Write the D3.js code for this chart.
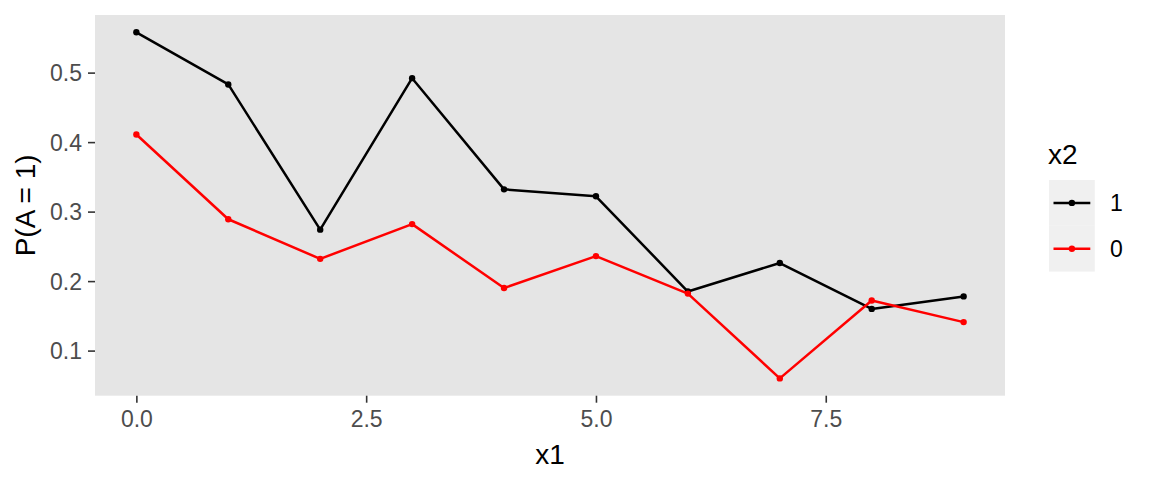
<!DOCTYPE html>
<html>
<head>
<meta charset="utf-8">
<script src="https://cdn.jsdelivr.net/npm/d3@7"></script>
<style>
  html, body { margin: 0; padding: 0; background: #fff; }
  svg { display: block; font-family: "Liberation Sans", Arial, sans-serif; }
</style>
</head>
<body>
<svg id="chart" width="1152" height="480"></svg>
<script>
const x1Values = [0, 1, 2, 3, 4, 5, 6, 7, 8, 9];
const series1 = [0.558, 0.483, 0.274, 0.492, 0.332, 0.322, 0.185, 0.226, 0.160, 0.178];
const series0 = [0.411, 0.289, 0.232, 0.282, 0.190, 0.236, 0.182, 0.060, 0.172, 0.141];
const seriesNames = ["1", "0"];
const seriesColors = ["#000000", "#FF0000"];
const xTicks = [0, 2.5, 5, 7.5];
const yTicks = [0.1, 0.2, 0.3, 0.4, 0.5];

const svg = d3.select("#chart");
const panel = { left: 95, right: 1005, top: 15, bottom: 395.7 };

const allY = series1.concat(series0);
const yMin = d3.min(allY), yMax = d3.max(allY);
const yPad = (yMax - yMin) * 0.05;
const xMin = d3.min(x1Values), xMax = d3.max(x1Values);
const xPad = (xMax - xMin) * 0.05;

const x = d3.scaleLinear().domain([xMin - xPad, xMax + xPad]).range([panel.left, panel.right]);
const y = d3.scaleLinear().domain([yMin - yPad, yMax + yPad]).range([panel.bottom, panel.top]);

svg.append("rect")
  .attr("x", panel.left).attr("y", panel.top)
  .attr("width", panel.right - panel.left).attr("height", panel.bottom - panel.top)
  .attr("fill", "#E5E5E5");

// Axes
const xAxis = d3.axisBottom(x).tickValues(xTicks).tickFormat(d3.format(".1f")).tickSizeInner(7).tickSizeOuter(0).tickPadding(4);
const gx = svg.append("g").attr("transform", `translate(0,${panel.bottom})`).call(xAxis);
gx.select(".domain").remove();
gx.selectAll(".tick line").attr("stroke", "#333333").attr("stroke-width", 1.6);
gx.selectAll(".tick text").attr("fill", "#4D4D4D").attr("font-size", 23).attr("dy", null).attr("y", 31.5);

const yAxis = d3.axisLeft(y).tickValues(yTicks).tickFormat(d3.format(".1f")).tickSizeInner(7).tickSizeOuter(0).tickPadding(5);
const gy = svg.append("g").attr("transform", `translate(${panel.left},0)`).call(yAxis);
gy.select(".domain").remove();
gy.selectAll(".tick line").attr("stroke", "#333333").attr("stroke-width", 1.6);
gy.selectAll(".tick text").attr("fill", "#4D4D4D").attr("font-size", 23).attr("dy", "0.35em").attr("x", -13);

// Axis titles
svg.append("text")
  .attr("x", (panel.left + panel.right) / 2).attr("y", 464)
  .attr("text-anchor", "middle").attr("font-size", 28).attr("fill", "#000")
  .text("x1");
svg.append("text")
  .attr("transform", `translate(35,${(panel.top + panel.bottom) / 2}) rotate(-90)`)
  .attr("text-anchor", "middle").attr("font-size", 28).attr("fill", "#000")
  .text("P(A = 1)");

// Lines and points
const data = [series1, series0];
const line = d3.line().x((d, i) => x(x1Values[i])).y(d => y(d));
data.forEach((vals, k) => {
  svg.append("path").datum(vals)
    .attr("d", line).attr("fill", "none")
    .attr("stroke", seriesColors[k]).attr("stroke-width", 2.5)
    .attr("stroke-linejoin", "round");
  svg.selectAll(null).data(vals).enter().append("circle")
    .attr("cx", (d, i) => x(x1Values[i])).attr("cy", d => y(d))
    .attr("r", 3.2).attr("fill", seriesColors[k]);
});

// Legend
const legX = 1049, legY = 180, keySize = 45.8;
svg.append("text").attr("x", 1048).attr("y", 164)
  .attr("font-size", 28).attr("fill", "#000").text("x2");
seriesNames.forEach((name, k) => {
  const ky = legY + k * keySize;
  svg.append("rect").attr("x", legX).attr("y", ky).attr("width", keySize).attr("height", keySize).attr("fill", "#F0F0F0");
  svg.append("line")
    .attr("x1", legX + 4.5).attr("x2", legX + keySize - 4.5)
    .attr("y1", ky + keySize / 2).attr("y2", ky + keySize / 2)
    .attr("stroke", seriesColors[k]).attr("stroke-width", 2.5);
  svg.append("circle").attr("cx", legX + keySize / 2).attr("cy", ky + keySize / 2).attr("r", 3.2).attr("fill", seriesColors[k]);
  svg.append("text").attr("x", 1110).attr("y", ky + keySize / 2).attr("dy", "0.35em")
    .attr("font-size", 23).attr("fill", "#000").text(name);
});
</script>
</body>
</html>
